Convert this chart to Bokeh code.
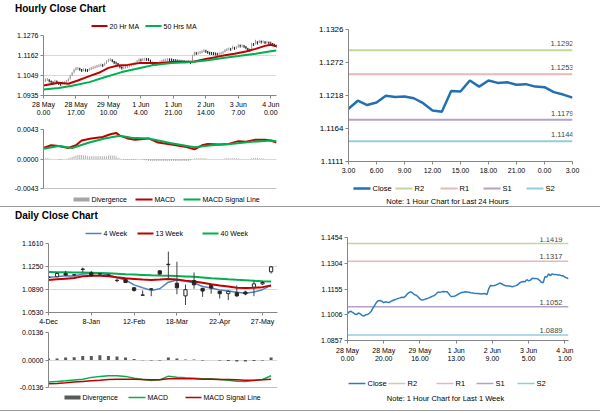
import math
from bokeh.plotting import figure
from bokeh.models import (Range1d, FixedTicker, NumeralTickFormatter, Label, Div, ColumnDataSource, Span)
from bokeh.layouts import row, column
from bokeh.embed import file_html
from bokeh.resources import INLINE

FONT = "Liberation Sans"
AX = "#868686"
GRID = "#D9D9D9"
RED = "#C00000"
GREEN = "#00B050"

# ---------------- hourly data (28 May 0:00 .. 4 Jun 3:00, trading hours) ----------------
hour_tick_idx = [0, 17, 34, 51, 68, 85, 102, 119]
hour_tick_labels = ["28 May\n0.00", "28 May\n17.00", "29 May\n10.00", "1 Jun\n4.00",
                    "1 Jun\n21.00", "2 Jun\n14.00", "3 Jun\n7.00", "4 Jun\n0.00"]
hour_price_ticks = [1.0935, 1.1049, 1.1162, 1.1276]
hour_macd_ticks = [-0.0043, 0.0000, 0.0043]

close_h = [
    1.1012, 1.1024, 1.1026, 1.1018, 1.1011, 1.1007, 1.1016, 1.1012, 1.1003, 1.0998,
    1.1006, 1.1007, 1.1015, 1.1025, 1.1044, 1.1061, 1.1078, 1.1088, 1.1089, 1.1084,
    1.1077, 1.1081, 1.1079, 1.1077, 1.1084, 1.1089, 1.1093, 1.1097, 1.1101, 1.1104,
    1.1108, 1.1106, 1.1114, 1.1127, 1.1135, 1.1139, 1.1132, 1.1122, 1.1119, 1.1110,
    1.1098, 1.1091, 1.1093, 1.1097, 1.1100, 1.1104, 1.1109, 1.1114, 1.1118, 1.1128,
    1.1137, 1.1136, 1.1139, 1.1141, 1.1140, 1.1139, 1.1127, 1.1113, 1.1112, 1.1114,
    1.1118, 1.1125, 1.1130, 1.1135, 1.1137, 1.1139, 1.1138, 1.1137, 1.1134, 1.1133,
    1.1131, 1.1130, 1.1129, 1.1128, 1.1127, 1.1128, 1.1129, 1.1123, 1.1158, 1.1176,
    1.1174, 1.1176, 1.1179, 1.1184, 1.1190, 1.1186, 1.1180, 1.1175, 1.1174, 1.1173,
    1.1171, 1.1169, 1.1172, 1.1175, 1.1180, 1.1191, 1.1196, 1.1199,
    1.1197, 1.1210, 1.1203, 1.1207, 1.1218, 1.1216, 1.1217, 1.1214, 1.1206, 1.1194,
    1.1192, 1.1226, 1.1225, 1.1243, 1.1233, 1.1243, 1.1239, 1.1240, 1.1236, 1.1237,
    1.1233, 1.1232, 1.1224, 1.1220, 1.1215]

ma20_idx = [0, 8, 13, 18, 24, 29, 34, 39, 44, 50, 55, 60, 67, 74, 79, 85, 90, 95, 100, 106, 111, 116, 119, 122]
ma20 = [1.0992, 1.1007, 1.1002, 1.1020, 1.1045, 1.1064, 1.1092, 1.1105, 1.1109, 1.1119, 1.1120, 1.1119,
        1.1126, 1.1126, 1.1128, 1.1143, 1.1153, 1.1164, 1.1172, 1.1185, 1.1200, 1.1217, 1.1223, 1.1215]
ma50_idx = [0, 8, 15, 24, 32, 41, 50, 58, 67, 76, 85, 93, 102, 111, 119, 122]
ma50 = [1.0969, 1.0978, 1.0990, 1.1011, 1.1039, 1.1068, 1.1090, 1.1109, 1.1119, 1.1124, 1.1134,
        1.1147, 1.1159, 1.1172, 1.1187, 1.1191]

div_h = [
    0.0000, 0.0001, 0.0001, 0.0001, 0.0000, 0.0000, 0.0000, 0.0000, -0.0001, -0.0001,
    0.0000, 0.0000, 0.0000, 0.0001, 0.0002, 0.0003, 0.0004, 0.0005, 0.0006, 0.0006,
    0.0006, 0.0005, 0.0005, 0.0004, 0.0004, 0.0004, 0.0004, 0.0004, 0.0004, 0.0004,
    0.0004, 0.0004, 0.0004, 0.0004, 0.0005, 0.0005, 0.0005, 0.0005, 0.0004, 0.0002,
    0.0001, 0.0000, -0.0001, -0.0001, -0.0001, -0.0001, -0.0001, -0.0001, -0.0001, 0.0000,
    0.0000, 0.0000, -0.0001, -0.0002, -0.0002, -0.0003, -0.0003, -0.0003, -0.0003, -0.0003,
    -0.0003, -0.0003, -0.0003, -0.0003, -0.0003, -0.0003, -0.0003, -0.0003, -0.0003, -0.0003,
    -0.0003, -0.0003, -0.0003, -0.0003, -0.0003, -0.0003, -0.0003, -0.0002, 0.0000, 0.0001,
    0.0001, 0.0001, 0.0001, 0.0001, 0.0001, 0.0001, 0.0000, 0.0000, 0.0000, 0.0000,
    0.0000, 0.0000, 0.0000, 0.0000, 0.0000, 0.0001, 0.0001, 0.0001, 0.0001, 0.0001,
    0.0001, 0.0001, 0.0001, 0.0000, 0.0000, 0.0000, 0.0000, 0.0000, 0.0000, 0.0001,
    0.0001, 0.0002, 0.0002, 0.0001, 0.0001, 0.0001, 0.0000, 0.0000, 0.0000, 0.0000,
    0.0000, 0.0000, -0.0001]
macd_idx = [0, 4, 8, 13, 17, 20, 25, 31, 35, 38, 40, 44, 48, 55, 60, 67, 74, 79, 83, 86,
            92, 97, 102, 106, 111, 116, 119, 122]
macd_h = [0.0016, 0.0020, 0.0019, 0.0016, 0.0020, 0.0027, 0.0030, 0.0032, 0.0036, 0.0038,
          0.0034, 0.0030, 0.0028, 0.0030, 0.0024, 0.0021, 0.0018, 0.0014, 0.0020, 0.0022,
          0.0021, 0.0022, 0.0026, 0.0025, 0.0028, 0.0028, 0.0027, 0.0024]
sig_idx = [0, 8, 15, 24, 32, 40, 46, 55, 67, 79, 88, 98, 109, 119, 122]
sig_h = [0.0015, 0.0019, 0.0016, 0.0024, 0.0030, 0.0034, 0.0031, 0.0030, 0.0023, 0.0017,
         0.0020, 0.0022, 0.0025, 0.0027, 0.0026]

# last 24 hours chart
day24_tick_labels = ["3.00", "6.00", "9.00", "12.00", "15.00", "18.00", "21.00", "0.00", "3.00"]
day24_price_ticks = [1.1111, 1.1164, 1.1218, 1.1272, 1.1326]
r2_h, r1_h, s1_h, s2_h = 1.1292, 1.1253, 1.1179, 1.1144

# last week chart
week_tick_idx = [0, 20, 40, 60, 80, 100, 120]
week_tick_labels = ["28 May\n0.00", "28 May\n20.00", "29 May\n16.00", "1 Jun\n13.00",
                    "2 Jun\n9.00", "3 Jun\n5.00", "4 Jun\n1.00"]
week_price_ticks = [1.0857, 1.1006, 1.1155, 1.1304, 1.1454]
r2_w, r1_w, s1_w, s2_w = 1.1419, 1.1317, 1.1052, 1.0889

# ---------------- daily (weekly candles) data ----------------
daily_tick_idx = [0, 5, 10, 15, 20, 25]
daily_tick_labels = ["4-Dec", "8-Jan", "12-Feb", "18-Mar", "22-Apr", "27-May"]
daily_price_ticks = [1.0530, 1.0890, 1.1250, 1.1610]
daily_macd_ticks = [-0.0136, 0.0000, 0.0136]
d_open = [1.1085, 1.1090, 1.1141, 1.1120, 1.1210, 1.1152, 1.1135, 1.1110, 1.1035, 1.1045,
          1.0917, 1.0805, 1.0900, 1.1182, 1.1285, 1.0988, 1.0790, 1.1029, 1.0907, 1.0953,
          1.0861, 1.0825, 1.0841, 1.0851, 1.0927, 1.0978, 1.1167]
d_high = [1.1116, 1.1157, 1.1182, 1.1131, 1.1233, 1.1182, 1.1150, 1.1135, 1.1060, 1.1055,
          1.0927, 1.0876, 1.0912, 1.1190, 1.1483, 1.1325, 1.0968, 1.1157, 1.0917, 1.0978,
          1.0870, 1.0876, 1.0953, 1.0870, 1.1029, 1.1020, 1.1259]
d_low = [1.1029, 1.1085, 1.1106, 1.1106, 1.1160, 1.1090, 1.1120, 1.1095, 1.1004, 1.0995,
         1.0855, 1.0797, 1.0785, 1.1120, 1.1055, 1.0815, 1.0647, 1.0902, 1.0775, 1.0825,
         1.0749, 1.0724, 1.0775, 1.0800, 1.0785, 1.0960, 1.1141]
d_close = [1.1080, 1.1141, 1.1116, 1.1116, 1.1205, 1.1101, 1.1131, 1.1120, 1.1029, 1.0999,
           1.0876, 1.0800, 1.0895, 1.1131, 1.1278, 1.0917, 1.0887, 1.0963, 1.0866, 1.0912,
           1.0825, 1.0861, 1.0790, 1.0820, 1.0978, 1.1000, 1.1244]
wk4 = [1.1080, 1.1090, 1.1106, 1.1101, 1.1131, 1.1146, 1.1141, 1.1121, 1.1075, 1.1039,
       1.0963, 1.0917, 1.0876, 1.0902, 1.1004, 1.1039, 1.1019, 1.0994, 1.0937, 1.0912,
       1.0881, 1.0866, 1.0846, 1.0830, 1.0851, 1.0887, 1.0958]
wk13 = [1.1039, 1.1050, 1.1060, 1.1070, 1.1096, 1.1106, 1.1106, 1.1096, 1.1080, 1.1065,
        1.1055, 1.1045, 1.1039, 1.1045, 1.1055, 1.1045, 1.1029, 1.1014, 1.0994, 1.0973,
        1.0953, 1.0937, 1.0917, 1.0912, 1.0917, 1.0927, 1.0953]
wk40 = [1.1162, 1.1161, 1.1159, 1.1157, 1.1155, 1.1152, 1.1148, 1.1143, 1.1138, 1.1130,
        1.1124, 1.1118, 1.1112, 1.1108, 1.1105, 1.1101, 1.1095, 1.1088, 1.1078, 1.1068,
        1.1060, 1.1050, 1.1042, 1.1035, 1.1027, 1.1020, 1.1014]
div_d = [0.0007, 0.0008, 0.0012, 0.0013, 0.0020, 0.0020, 0.0023, 0.0020, 0.0017, 0.0012,
         0.0005, -0.0001, -0.0003, -0.0002, 0.0012, 0.0007, 0.0003, 0.0002, -0.0002, 0.0000,
         -0.0003, -0.0005, -0.0007, -0.0007, -0.0005, -0.0002, 0.0012]
macd_d = [-0.0109, -0.0106, -0.0103, -0.0099, -0.0095, -0.0086, -0.0081, -0.0078, -0.0078, -0.0081,
          -0.0090, -0.0096, -0.0101, -0.0098, -0.0080, -0.0085, -0.0088, -0.0090, -0.0093, -0.0093,
          -0.0096, -0.0100, -0.0105, -0.0106, -0.0101, -0.0096, -0.0078]
sig_d = [-0.0118, -0.0116, -0.0113, -0.0109, -0.0106, -0.0103, -0.0100, -0.0096, -0.0095, -0.0095,
         -0.0095, -0.0096, -0.0098, -0.0098, -0.0093, -0.0093, -0.0093, -0.0093, -0.0095, -0.0095,
         -0.0096, -0.0096, -0.0098, -0.0100, -0.0100, -0.0098, -0.0095]

hour_idx = list(range(len(close_h)))
wk_idx = list(range(len(d_close)))

LV_COLS = ["#C3D69B", "#E6B9B8", "#B3A2C7", "#93CDDD"]


# ---------------- helpers ----------------
def fig(w, h, xr, yticks, bl, br, bt, bb, grid=True, yfs="7px", xfs="7px"):
    p = figure(width=w, height=h, x_range=Range1d(*xr), y_range=Range1d(yticks[0], yticks[-1]),
               output_backend="svg", toolbar_location=None,
               min_border_left=bl, min_border_right=br, min_border_top=bt, min_border_bottom=bb)
    p.outline_line_color = None
    p.background_fill_color = "white"
    p.border_fill_color = "white"
    p.xgrid.visible = False
    if grid:
        p.ygrid.grid_line_color = GRID
    else:
        p.ygrid.visible = False
    p.yaxis.ticker = FixedTicker(ticks=yticks)
    p.yaxis.formatter = NumeralTickFormatter(format="0.0000")
    for ax in list(p.xaxis) + list(p.yaxis):
        ax.axis_line_color = AX
        ax.major_tick_line_color = AX
        ax.minor_tick_line_color = None
        ax.major_tick_in = 0
        ax.major_tick_out = 3
        ax.major_label_text_font = FONT
        ax.major_label_text_color = "#000000"
        ax.major_label_standoff = 2
    p.yaxis.major_label_text_font_size = yfs
    p.xaxis.major_label_text_font_size = xfs
    return p


def set_xticks(p, ticks, labels):
    p.xaxis.ticker = FixedTicker(ticks=ticks)
    p.xaxis.major_label_overrides = {t: l for t, l in zip(ticks, labels)}


def legend_strip(h, frame_left, br, y, entries, fs="7px"):
    """A strip under/over a chart holding its legend. The column layout aligns this strip's
    frame with the chart's frame, so its x range is given in pixels of the column."""
    s = figure(width=300, height=h, x_range=Range1d(frame_left, 300 - br), y_range=Range1d(0, h),
               output_backend="svg", toolbar_location=None, x_axis_type=None, y_axis_type=None,
               min_border_left=0, min_border_right=br, min_border_top=0, min_border_bottom=0)
    s.outline_line_color = None
    s.background_fill_color = "white"
    s.border_fill_color = "white"
    for label, color, lw, x0, glen in entries:
        s.segment(x0=[x0], y0=[y], x1=[x0 + glen], y1=[y], line_color=color, line_width=lw)
        s.add_layout(Label(x=x0 + glen + 2, y=y, text=label, text_align="left", text_baseline="middle",
                           text_font=FONT, text_font_size=fs, text_color="#000000"))
    return s


def add_note(s, text, cx, y):
    s.add_layout(Label(x=cx, y=y, text=text, text_align="center", text_baseline="middle",
                       text_font=FONT, text_font_size="7.5px", text_color="#000000"))


def title_div(text, h, lh):
    return Div(text=("<div style=\"font-family:'Liberation Sans';font-weight:bold;font-size:10px;"
                     "line-height:%dpx;padding-left:15px;white-space:nowrap\">%s</div>") % (lh, text),
               width=300, height=h, margin=0)


# ---------------- hourly close chart ----------------
title1 = title_div("Hourly Close Chart", 18, 18)
leg1 = legend_strip(13, 43, 24, 5.5, [("20 Hr MA", RED, 2, 91, 16), ("50 Hrs MA", GREEN, 2, 145, 16)])

p1 = fig(300, 89, (hour_idx[0], hour_idx[-1]), hour_price_ticks, 43, 24, 4, 25)
set_xticks(p1, hour_tick_idx, hour_tick_labels)
prev = [close_h[0]] + close_h[:-1]
cols = ["#9A9A9A" if c >= o else "#1A1A1A" for o, c in zip(prev, close_h)]
src = ColumnDataSource(dict(x=hour_idx, o=prev, c=close_h, col=cols))
p1.segment(x0="x", y0="o", x1="x", y1="c", line_color="col", line_width=1, source=src)
p1.scatter(x="x", y="c", marker="dash", size=3, angle=math.pi / 2, line_color="col", line_width=1, source=src)
p1.line(ma20_idx, ma20, line_color=RED, line_width=2)
p1.line(ma50_idx, ma50, line_color=GREEN, line_width=2)

p2 = fig(300, 72, (hour_idx[0], hour_idx[-1]), hour_macd_ticks, 43, 24, 9, 4)
p2.xaxis.visible = False
p2.add_layout(Span(location=hour_macd_ticks[0], dimension="width", line_color=AX, line_width=1))
p2.vbar(x=hour_idx, width=0.45, top=div_h, bottom=0, fill_color="#A6A6A6", line_color=None)
p2.line(macd_idx, macd_h, line_color=RED, line_width=2)
p2.line(sig_idx, sig_h, line_color=GREEN, line_width=2)
leg2 = legend_strip(14, 43, 24, 7, [("Divergence", "#A6A6A6", 4, 73, 16), ("MACD", RED, 2, 135, 17),
                                   ("MACD Signal Line", GREEN, 2, 183, 17)])

# ---------------- last 24 hours ----------------
x24 = hour_idx[:25]
close24 = close_h[-25:]
p3 = fig(300, 180, (x24[0], x24[-1]), day24_price_ticks, 48, 28, 29, 19, grid=False, yfs="8px")
set_xticks(p3, x24[::3], day24_tick_labels)
p3.xaxis.major_label_standoff = 3
for v, c in zip([r2_h, r1_h, s1_h, s2_h], LV_COLS):
    p3.line([x24[0], x24[-1]], [v, v], line_color=c, line_width=2)
    p3.add_layout(Label(x=x24[-1], y=v, text="%.4f" % v, text_align="right", text_baseline="bottom",
                        x_offset=1, y_offset=4, text_font=FONT, text_font_size="7.5px"))
p3.line(x24, close24, line_color="#2270B4", line_width=2.5)
leg3 = legend_strip(26, 48, 28, 18, [("Close", "#2270B4", 2.5, 53, 17), ("R2", LV_COLS[0], 2, 95, 17),
                                     ("R1", LV_COLS[1], 2, 140, 17), ("S1", LV_COLS[2], 2, 183, 17),
                                     ("S2", LV_COLS[3], 2, 226, 17)], fs="7.5px")
add_note(leg3, "Note: 1 Hour Chart for Last 24 Hours", 147, 5)

# ---------------- daily close chart ----------------
title2 = title_div("Daily Close Chart", 17, 17)
leg4 = legend_strip(14, 48, 23, 5, [("4 Week", "#4F81BD", 1.5, 85, 16), ("13 Week", RED, 2, 137, 16),
                                    ("40 Week", GREEN, 2, 202, 16)])

p4 = fig(300, 89, (0, 26.75), daily_price_ticks, 48, 23, 5, 13)
set_xticks(p4, daily_tick_idx, daily_tick_labels)
p4.line(wk_idx, wk4, line_color="#4F81BD", line_width=1.5)
p4.line(wk_idx, wk13, line_color=RED, line_width=2)
p4.line(wk_idx, wk40, line_color=GREEN, line_width=2)
csrc = ColumnDataSource(dict(
    x=wk_idx, hi=d_high, lo=d_low,
    top=[max(o, c) for o, c in zip(d_open, d_close)],
    bot=[min(o, c) for o, c in zip(d_open, d_close)],
    fill=["white" if c > o else "#262626" for o, c in zip(d_open, d_close)]))
p4.segment(x0="x", y0="lo", x1="x", y1="hi", line_color="#404040", line_width=1, source=csrc)
p4.vbar(x="x", width=0.38, top="top", bottom="bot", fill_color="fill", line_color="#262626",
        line_width=1, source=csrc)

p5 = fig(300, 65, (0, 26.75), daily_macd_ticks, 48, 23, 5, 5)
p5.xaxis.visible = False
p5.add_layout(Span(location=daily_macd_ticks[0], dimension="width", line_color=AX, line_width=1))
p5.vbar(x=wk_idx, width=0.35, top=div_d, bottom=0, fill_color="#595959", line_color=None)
p5.line(wk_idx, macd_d, line_color=GREEN, line_width=1.5)
p5.line(wk_idx, sig_d, line_color=RED, line_width=1.5)
leg5 = legend_strip(18, 48, 23, 13, [("Divergence", "#595959", 4, 64, 16), ("MACD", GREEN, 1.5, 128, 17),
                                     ("MACD Signal Line", RED, 1.5, 185, 16)])

# ---------------- last week ----------------
p6 = fig(300, 158, (hour_idx[0], hour_idx[-1]), week_price_ticks, 47, 32, 30, 25, grid=False)
set_xticks(p6, week_tick_idx, week_tick_labels)
p6.xaxis.major_label_standoff = 3
for v, c in zip([r2_w, r1_w, s1_w, s2_w], LV_COLS):
    p6.line([hour_idx[0], hour_idx[-1]], [v, v], line_color=c, line_width=1.5)
    p6.add_layout(Label(x=hour_idx[-1], y=v, text="%.4f" % v, text_align="right", text_baseline="bottom",
                        x_offset=-6, y_offset=2, text_font=FONT, text_font_size="7.5px"))
p6.line(hour_idx, close_h, line_color="#2E7EBF", line_width=1.5)
leg6 = legend_strip(45, 47, 32, 27, [("Close", "#2E7EBF", 1.5, 48, 17), ("R2", LV_COLS[0], 1.5, 88, 17),
                                     ("R1", LV_COLS[1], 1.5, 136, 17), ("S1", LV_COLS[2], 1.5, 176, 17),
                                     ("S2", LV_COLS[3], 1.5, 217, 17)], fs="7.5px")
add_note(leg6, "Note: 1 Hour Chart for Last 1 Week", 145, 12)

sep_style = {"background-color": "#9A9A9A"}
sep1 = Div(text="", width=600, height=1, margin=0, styles=sep_style)
sep2 = Div(text="", width=600, height=1, margin=0, styles=sep_style)

root = column(row(column(title1, leg1, p1, p2, leg2), column(p3, leg3)), sep1,
              row(column(title2, leg4, p4, p5, leg5), column(p6, leg6)), sep2)

open("out.html", "w").write(file_html(root, INLINE))
